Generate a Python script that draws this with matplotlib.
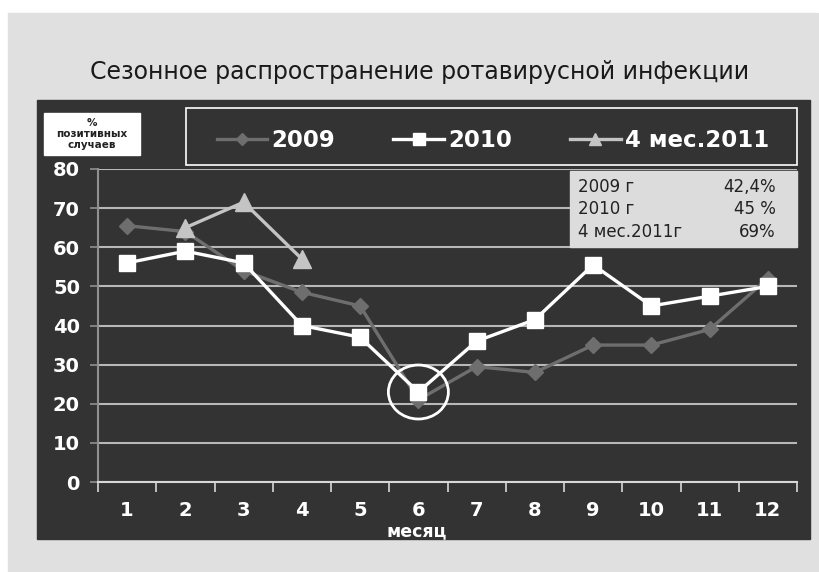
import matplotlib.pyplot as plt
import matplotlib.patches as mpatches
from matplotlib.lines import Line2D
from matplotlib.patches import Ellipse

# monthly share of positive samples, %
months = [1, 2, 3, 4, 5, 6, 7, 8, 9, 10, 11, 12]
pos_2009 = [65.5, 64, 54, 48.5, 45, 21, 29.5, 28, 35, 35, 39, 52]
pos_2010 = [56, 59, 56, 40, 37, 23, 36, 41.5, 55.5, 45, 47.5, 50]
months_2011 = [2, 3, 4]
pos_2011 = [65, 71.5, 57]

series_names = ['2009', '2010', '4 мес.2011']
year_labels = ['2009 г', '2010 г', '4 мес.2011г']
year_totals = ['42,4%', '45 %', '69%']

W, H = 819, 572
fig = plt.figure(figsize=(W / 100, H / 100), dpi=100)
fig.patch.set_facecolor('white')

def fx(px):
    return px / W

def fy(py):
    return 1 - py / H

# light gray sheet and dark chart panel
fig.patches.append(mpatches.Rectangle((fx(8), 0), fx(818) - fx(8), fy(13),
                                      transform=fig.transFigure, color='#e0e0e0', zorder=0))
fig.patches.append(mpatches.Rectangle((fx(37), fy(539)), fx(810) - fx(37), fy(100) - fy(539),
                                      transform=fig.transFigure, color='#333333', zorder=1))

fig.text(fx(420), fy(72), 'Сезонное распространение ротавирусной инфекции',
         ha='center', va='center', fontsize=17, color='#1a1a1a')

ax = fig.add_axes([fx(98), fy(482), fx(797) - fx(98), fy(169) - fy(482)])
ax.set_facecolor('none')
ax.set_zorder(3)

ax.plot(months, pos_2009, color='#6e6e6e', lw=2.4, marker='D', ms=8, label=series_names[0])
ax.plot(months, pos_2010, color='white', lw=2.4, marker='s', ms=11, label=series_names[1])
ax.plot(months_2011, pos_2011, color='#c4c4c4', lw=2.4, marker='^', ms=13, label=series_names[2])

# minimum of 2010 marked by a circle
ax.add_patch(Ellipse((6, pos_2010[5]), 1.03, 13.8, fill=False, ec='white', lw=2, zorder=5))

ax.set_xlim(0.5, 12.5)
ax.set_ylim(0, 80)
ax.set_yticks(range(0, 81, 10))
ax.set_xticks(months)
ax.set_xticks([m + 0.5 for m in [0] + months], minor=True)
ax.grid(axis='y', color='#b8b8b8', lw=1.5)
ax.set_axisbelow(True)
for s in ['top', 'right']:
    ax.spines[s].set_visible(False)
ax.spines['left'].set_color('#909090')
ax.spines['left'].set_linewidth(1.5)
ax.spines['bottom'].set_color('#d8d8d8')
ax.spines['bottom'].set_linewidth(1.5)
ax.tick_params(axis='y', colors='#909090', length=6, width=1.2, pad=7, labelcolor='white',
               labelsize=14)
ax.tick_params(axis='x', which='major', length=0, pad=14, labelcolor='white', labelsize=14)
ax.tick_params(axis='x', which='minor', length=7, width=1.2, color='#d8d8d8', direction='out')
for lab in ax.get_xticklabels() + ax.get_yticklabels():
    lab.set_fontweight('bold')

fig.text(fx(417), fy(531), 'месяц', ha='center', va='center', fontsize=12.5,
         fontweight='bold', color='white', zorder=4)

# y caption in a white box
fig.patches.append(mpatches.Rectangle((fx(44), fy(155)), fx(140) - fx(44), fy(113) - fy(155),
                                      transform=fig.transFigure, color='white', zorder=2))
fig.text(fx(92), fy(134), '%\nпозитивных\nслучаев', ha='center', va='center', fontsize=7.5,
         fontweight='bold', color='#222222', linespacing=1.1, zorder=4)

# yearly totals box
fig.patches.append(mpatches.Rectangle((fx(570), fy(247)), fx(797) - fx(570), fy(171) - fy(247),
                                      transform=fig.transFigure, color='#dcdcdc', zorder=4))
for i, (lab, val) in enumerate(zip(year_labels, year_totals)):
    y = fy(187 + i * 22.5)
    fig.text(fx(578), y, lab, ha='left', va='center', fontsize=12, color='#222222', zorder=5)
    fig.text(fx(776), y, val, ha='right', va='center', fontsize=12, color='#222222', zorder=5)

handles = [
    Line2D([], [], color='#6e6e6e', lw=2.4, marker='D', ms=6),
    Line2D([], [], color='white', lw=2.4, marker='s', ms=8),
    Line2D([], [], color='#c4c4c4', lw=2.4, marker='^', ms=9),
]
leg = fig.legend(handles, series_names, loc='lower left',
                 bbox_to_anchor=(fx(204), fy(165), fx(782) - fx(204), fy(108) - fy(165)),
                 mode='expand', ncol=3, frameon=False, handlelength=2.2,
                 handletextpad=0.2, borderaxespad=0, borderpad=0.55,
                 prop={'weight': 'bold', 'size': 16.5})
leg.set_zorder(6)
for t in leg.get_texts():
    t.set_color('white')
# legend frame
fig.patches.append(mpatches.Rectangle((fx(186), fy(165)), fx(797) - fx(186), fy(108) - fy(165),
                                      transform=fig.transFigure, fill=False, ec='white',
                                      lw=1.2, zorder=5))

fig.savefig('out.png', dpi=100)
